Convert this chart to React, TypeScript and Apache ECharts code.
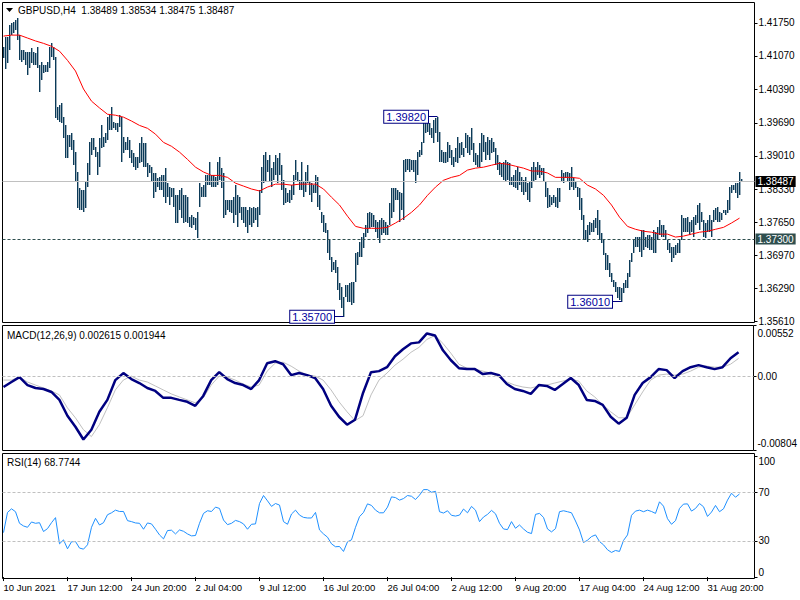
import React, { useEffect, useRef } from 'react';
import * as echarts from 'echarts';

const xTickLabels = ['10 Jun 2021', '17 Jun 12:00', '24 Jun 20:00', '2 Jul 04:00', '9 Jul 12:00', '16 Jul 20:00', '26 Jul 04:00', '2 Aug 12:00', '9 Aug 20:00', '17 Aug 04:00', '24 Aug 12:00', '31 Aug 20:00'];

const priceTicks = [1.3561, 1.3629, 1.3697, 1.3765, 1.3833, 1.3901, 1.3969, 1.4039, 1.4107, 1.4175];

const highs = [
1.4125,1.4146,1.4146,1.4170,1.4175,1.4177,1.4181,1.4185,1.4150,1.4119,
1.4119,1.4115,1.4115,1.4115,1.4123,1.4115,1.4113,1.4125,1.4088,1.4094,
1.4088,1.4088,1.4094,1.4125,1.4133,1.4125,1.4105,1.4002,1.4006,1.4010,
1.3981,1.3964,1.3944,1.3944,1.3948,1.3934,1.3909,1.3868,1.3835,1.3831,
1.3831,1.3847,1.3886,1.3929,1.3938,1.3938,1.3919,1.3909,1.3938,1.3964,
1.3940,1.3948,1.3981,1.3985,1.4002,1.3971,1.3969,1.3969,1.3985,1.3981,
1.3940,1.3929,1.3940,1.3934,1.3913,1.3907,1.3899,1.3899,1.3927,1.3940,
1.3927,1.3927,1.3886,1.3882,1.3878,1.3866,1.3866,1.3855,1.3857,1.3861,
1.3861,1.3876,1.3845,1.3837,1.3835,1.3835,1.3820,1.3820,1.3831,1.3835,
1.3820,1.3820,1.3816,1.3775,1.3779,1.3775,1.3773,1.3785,1.3845,1.3837,
1.3841,1.3861,1.3861,1.3888,1.3861,1.3861,1.3857,1.3888,1.3899,1.3876,
1.3866,1.3810,1.3810,1.3810,1.3810,1.3816,1.3841,1.3820,1.3816,1.3796,
1.3796,1.3796,1.3789,1.3796,1.3794,1.3796,1.3794,1.3796,1.3831,1.3878,
1.3903,1.3909,1.3892,1.3903,1.3876,1.3888,1.3903,1.3897,1.3907,1.3882,
1.3851,1.3835,1.3824,1.3831,1.3841,1.3861,1.3892,1.3868,1.3851,1.3888,
1.3847,1.3868,1.3882,1.3847,1.3845,1.3841,1.3861,1.3857,1.3820,1.3785,
1.3779,1.3763,1.3748,1.3728,1.3693,1.3682,1.3686,1.3672,1.3639,1.3631,
1.3610,1.3635,1.3635,1.3639,1.3641,1.3641,1.3701,1.3703,1.3723,1.3734,
1.3742,1.3758,1.3783,1.3785,1.3783,1.3779,1.3769,1.3765,1.3769,1.3773,
1.3769,1.3765,1.3758,1.3804,1.3835,1.3835,1.3835,1.3831,1.3826,1.3824,
1.3892,1.3894,1.3894,1.3894,1.3892,1.3892,1.3892,1.3909,1.3913,1.3929,
1.3971,1.3971,1.3975,1.3969,1.3958,1.3975,1.3979,1.3982,1.3950,1.3913,
1.3909,1.3909,1.3929,1.3923,1.3913,1.3899,1.3917,1.3940,1.3927,1.3929,
1.3917,1.3948,1.3944,1.3940,1.3958,1.3927,1.3907,1.3903,1.3927,1.3948,
1.3944,1.3929,1.3940,1.3934,1.3938,1.3929,1.3917,1.3903,1.3888,1.3886,
1.3888,1.3892,1.3888,1.3886,1.3857,1.3861,1.3872,1.3878,1.3868,1.3857,
1.3851,1.3857,1.3845,1.3847,1.3878,1.3888,1.3878,1.3888,1.3882,1.3876,
1.3876,1.3847,1.3835,1.3820,1.3816,1.3820,1.3816,1.3835,1.3835,1.3872,
1.3866,1.3868,1.3868,1.3866,1.3878,1.3855,1.3847,1.3837,1.3835,1.3814,
1.3779,1.3748,1.3758,1.3765,1.3763,1.3769,1.3773,1.3789,1.3769,1.3742,
1.3728,1.3701,1.3697,1.3680,1.3660,1.3645,1.3641,1.3631,1.3631,1.3629,
1.3639,1.3645,1.3660,1.3686,1.3701,1.3728,1.3734,1.3734,1.3734,1.3748,
1.3748,1.3734,1.3738,1.3738,1.3734,1.3748,1.3744,1.3754,1.3769,1.3758,
1.3758,1.3748,1.3728,1.3721,1.3713,1.3713,1.3717,1.3721,1.3728,1.3779,
1.3773,1.3773,1.3775,1.3765,1.3769,1.3775,1.3779,1.3800,1.3804,1.3785,
1.3769,1.3763,1.3769,1.3779,1.3769,1.3789,1.3794,1.3796,1.3785,1.3783,
1.3789,1.3789,1.3810,1.3837,1.3841,1.3841,1.3845,1.3845,1.3868,1.38534
];

const lows = [
1.4103,1.4080,1.4092,1.4119,1.4150,1.4154,1.4160,1.4140,1.4098,1.4094,
1.4098,1.4088,1.4067,1.4082,1.4092,1.4088,1.4088,1.4082,1.4032,1.4057,
1.4072,1.4074,1.4074,1.4082,1.4105,1.4098,1.3979,1.3975,1.3971,1.3969,
1.3938,1.3897,1.3897,1.3919,1.3913,1.3882,1.3847,1.3794,1.3789,1.3789,
1.3785,1.3794,1.3837,1.3861,1.3903,1.3913,1.3899,1.3861,1.3878,1.3917,
1.3919,1.3927,1.3934,1.3954,1.3954,1.3958,1.3954,1.3950,1.3960,1.3888,
1.3907,1.3913,1.3913,1.3897,1.3886,1.3878,1.3872,1.3876,1.3886,1.3888,
1.3878,1.3878,1.3857,1.3866,1.3847,1.3814,1.3826,1.3837,1.3831,1.3831,
1.3816,1.3804,1.3816,1.3800,1.3816,1.3796,1.3763,1.3763,1.3789,1.3773,
1.3763,1.3765,1.3763,1.3754,1.3752,1.3758,1.3748,1.3732,1.3796,1.3816,
1.3816,1.3816,1.3841,1.3841,1.3837,1.3837,1.3837,1.3841,1.3851,1.3835,
1.3773,1.3779,1.3789,1.3785,1.3783,1.3763,1.3779,1.3754,1.3783,1.3769,
1.3763,1.3754,1.3742,1.3758,1.3754,1.3763,1.3769,1.3754,1.3779,1.3824,
1.3845,1.3847,1.3868,1.3847,1.3837,1.3851,1.3861,1.3845,1.3861,1.3831,
1.3800,1.3804,1.3806,1.3804,1.3810,1.3820,1.3851,1.3847,1.3831,1.3831,
1.3816,1.3826,1.3845,1.3820,1.3806,1.3824,1.3824,1.3796,1.3789,1.3763,
1.3744,1.3742,1.3701,1.3686,1.3662,1.3666,1.3660,1.3625,1.3604,1.3588,
1.3570,1.3610,1.3600,1.3600,1.3594,1.3598,1.3641,1.3676,1.3693,1.3693,
1.3711,1.3734,1.3742,1.3752,1.3754,1.3754,1.3744,1.3732,1.3721,1.3738,
1.3742,1.3738,1.3738,1.3758,1.3773,1.3785,1.3810,1.3810,1.3765,1.3789,
1.3769,1.3868,1.3872,1.3868,1.3872,1.3868,1.3845,1.3861,1.3899,1.3903,
1.3927,1.3948,1.3950,1.3944,1.3938,1.3927,1.3948,1.3929,1.3888,1.3888,
1.3886,1.3886,1.3888,1.3897,1.3882,1.3878,1.3888,1.3886,1.3897,1.3903,
1.3899,1.3917,1.3907,1.3903,1.3913,1.3888,1.3882,1.3878,1.3878,1.3888,
1.3909,1.3892,1.3903,1.3892,1.3907,1.3909,1.3882,1.3872,1.3861,1.3857,
1.3851,1.3847,1.3851,1.3841,1.3841,1.3837,1.3835,1.3831,1.3841,1.3826,
1.3820,1.3826,1.3810,1.3806,1.3835,1.3847,1.3851,1.3861,1.3855,1.3861,
1.3847,1.3816,1.3794,1.3796,1.3800,1.3804,1.3796,1.3794,1.3806,1.3847,
1.3845,1.3855,1.3847,1.3831,1.3837,1.3831,1.3835,1.3816,1.3789,1.3769,
1.3728,1.3728,1.3723,1.3738,1.3744,1.3744,1.3752,1.3738,1.3728,1.3721,
1.3697,1.3666,1.3666,1.3651,1.3641,1.3631,1.3620,1.3608,1.3604,1.3601,
1.3618,1.3629,1.3629,1.3651,1.3682,1.3701,1.3713,1.3713,1.3703,1.3693,
1.3707,1.3713,1.3711,1.3707,1.3707,1.3701,1.3701,1.3728,1.3738,1.3734,
1.3734,1.3728,1.3707,1.3701,1.3682,1.3691,1.3697,1.3701,1.3701,1.3728,
1.3744,1.3744,1.3744,1.3738,1.3744,1.3734,1.3758,1.3763,1.3748,1.3765,
1.3734,1.3732,1.3744,1.3744,1.3734,1.3765,1.3769,1.3765,1.3765,1.3769,
1.3783,1.3779,1.3783,1.3789,1.3824,1.3831,1.3824,1.3814,1.3820,1.38475
];

// moving average, read every 4th bar
const maValues = [
1.4148,1.4150,1.4150,1.4144,1.4138,1.4133,1.4127,1.4117,1.4098,1.4076,
1.4039,1.4014,1.4000,1.3987,1.3985,1.3981,1.3973,1.3964,1.3958,1.3946,
1.3929,1.3921,1.3909,1.3894,1.3878,1.3868,1.3861,1.3861,1.3857,1.3845,
1.3839,1.3833,1.3829,1.3837,1.3843,1.3843,1.3841,1.3843,1.3843,1.3843,
1.3833,1.3816,1.3800,1.3777,1.3756,1.3752,1.3752,1.3752,1.3754,1.3763,
1.3773,1.3785,1.3800,1.3820,1.3837,1.3851,1.3857,1.3861,1.3872,1.3876,
1.3878,1.3882,1.3886,1.3884,1.3880,1.3876,1.3870,1.3870,1.3866,1.3857,
1.3857,1.3857,1.3855,1.3841,1.3833,1.3820,1.3800,1.3775,1.3756,1.3750,
1.3746,1.3744,1.3740,1.3740,1.3734,1.3736,1.3740,1.3744,1.3746,1.3750,
1.3754,1.3763,1.3773
];

// MACD main and signal, read every 4th bar
const macdMain = [
-0.00115,-0.00061,-0.00008,-0.00094,-0.00126,-0.00137,-0.00169,-0.00255,-0.00427,-0.00546,
-0.00685,-0.00578,-0.00384,-0.00255,-0.00040,0.00036,-0.00029,-0.00072,-0.00126,-0.00158,
-0.00233,-0.00233,-0.00255,-0.00276,-0.00319,-0.00212,-0.00040,0.00046,-0.00029,-0.00072,
-0.00094,-0.00137,-0.00040,0.00143,0.00165,0.00132,0.00014,0.00036,0.00014,-0.00018,
-0.00137,-0.00319,-0.00438,-0.00524,-0.00470,-0.00180,0.00046,0.00057,0.00100,0.00218,
0.00294,0.00358,0.00369,0.00466,0.00444,0.00283,0.00175,0.00089,0.00079,0.00079,
0.00025,0.00036,0.00014,-0.00083,-0.00137,-0.00158,-0.00190,-0.00094,-0.00104,-0.00147,
-0.00083,-0.00018,-0.00094,-0.00255,-0.00266,-0.00309,-0.00438,-0.00513,-0.00449,-0.00201,
-0.00072,-0.00008,0.00079,0.00068,-0.00018,0.00057,0.00100,0.00122,0.00100,0.00079,
0.00100,0.00197,0.002615
];

const macdSignal = [
-0.00040,-0.00040,-0.00008,-0.00061,-0.00094,-0.00126,-0.00158,-0.00201,-0.00341,-0.00449,
-0.00578,-0.00653,-0.00524,-0.00341,-0.00147,-0.00040,0.00003,-0.00040,-0.00061,-0.00104,
-0.00147,-0.00190,-0.00223,-0.00255,-0.00287,-0.00233,-0.00094,0.00003,-0.00008,-0.00040,
-0.00083,-0.00115,-0.00094,0.00057,0.00143,0.00154,0.00111,0.00057,0.00014,0.00003,
-0.00040,-0.00147,-0.00276,-0.00384,-0.00481,-0.00427,-0.00201,-0.00040,0.00036,0.00122,
0.00186,0.00261,0.00315,0.00401,0.00444,0.00358,0.00251,0.00132,0.00089,0.00079,
0.00057,0.00036,-0.00008,-0.00061,-0.00094,-0.00115,-0.00126,-0.00104,-0.00094,-0.00072,
-0.00051,-0.00029,-0.00051,-0.00158,-0.00223,-0.00309,-0.00384,-0.00449,-0.00449,-0.00309,
-0.00169,-0.00040,0.00014,0.00025,0.00014,0.00025,0.00057,0.00100,0.00111,0.00100,
0.00100,0.00132,0.001944
];

// RSI(14), read every 2nd bar
const rsiValues = [
36.8,53.5,56.5,54.1,44.5,42.3,41.2,45.6,44.5,45.0,
37.7,40.1,45.0,49.2,27.5,30.8,23.4,29.2,29.4,24.0,
23.1,26.7,41.2,48.6,43.1,45.0,51.6,53.2,55.4,54.3,
54.3,46.7,45.9,44.8,44.5,39.6,44.8,44.0,39.6,34.9,
31.6,38.5,38.8,35.7,39.0,37.9,35.7,34.1,34.4,44.5,
52.7,54.9,54.3,57.9,56.8,47.2,43.4,44.5,46.9,45.9,
44.0,39.6,43.7,44.0,60.9,67.5,63.1,58.5,60.9,59.6,
45.9,43.7,52.2,55.4,51.3,49.4,48.9,48.9,53.5,39.0,
35.7,33.0,27.5,25.1,25.3,21.2,29.2,30.8,41.2,50.0,
53.5,60.6,59.3,55.4,53.2,53.2,57.9,66.4,65.8,63.7,
65.0,67.5,66.9,64.2,67.8,72.4,72.4,70.2,71.0,54.1,
53.0,54.9,51.1,50.5,51.3,56.3,53.2,58.5,55.4,45.9,
49.7,51.9,55.2,52.4,44.5,39.8,39.3,45.9,40.4,43.1,
39.8,37.1,36.0,51.9,52.7,49.4,39.8,37.4,40.1,54.1,
54.9,54.1,53.2,46.4,39.0,28.6,30.5,33.5,34.9,29.4,
26.7,22.6,20.4,22.0,21.2,30.3,34.9,51.1,54.6,55.4,
54.1,55.4,54.3,52.7,62.3,58.7,48.3,43.7,46.7,56.8,
60.4,60.6,54.6,56.8,60.9,58.2,50.2,53.8,59.3,54.1,
56.5,63.7,69.4,66.1,68.77
];

const annotations = [
  { label: '1.39820', bar: 217, price: 1.3982 },
  { label: '1.35700', bar: 170, price: 1.357 },
  { label: '1.36010', bar: 309, price: 1.3601 },
];

const lastPrice = 1.38487;
const levelPrice = 1.373;

const CAT_COUNT = 376;
const FONT = '"Liberation Sans", Arial, sans-serif';

export default function App() {
  const ref = useRef<HTMLDivElement>(null);
  useEffect(() => {
    const chart = echarts.init(ref.current as HTMLDivElement, undefined, { renderer: 'svg', width: 800, height: 600 });
    const categories = Array.from({ length: CAT_COUNT }, (_, i) => String(i));
    const barData = highs.map((h, i) => [i, lows[i], h]);
    const maData = maValues.map((v, k) => [k * 4, v]);
    const macdData = macdMain.map((v, k) => [k * 4, v]);
    const sigData = macdSignal.map((v, k) => [k * 4, v]);
    const rsiData = rsiValues.map((v, j) => [j * 2, v]);
    const tickInterval = (idx: number) => idx % 32 === 0 && idx / 32 < xTickLabels.length;

    const gridBase = { left: 2.5, width: 752, show: true, borderColor: '#000', borderWidth: 1, backgroundColor: '#fff' };
    const hiddenX = (gi: number) => ({ type: 'category', gridIndex: gi, data: categories, boundaryGap: true, show: false });
    const textStyle = { fontFamily: FONT, fontSize: 10, color: '#000' };

    const option: any = {
      animation: false,
      backgroundColor: '#fff',
      grid: [
        { ...gridBase, top: 2.5, height: 320 },
        { ...gridBase, top: 325.5, height: 125 },
        { ...gridBase, top: 453.5, height: 125 },
      ],
      xAxis: [
        hiddenX(0),
        hiddenX(1),
        {
          type: 'category', gridIndex: 2, data: categories, boundaryGap: true,
          axisLine: { show: false },
          axisTick: { show: true, interval: tickInterval, alignWithLabel: true, length: 4, lineStyle: { color: '#000' } },
          axisLabel: {
            interval: tickInterval, align: 'left', margin: 4, fontSize: 9.5, color: '#000', fontFamily: FONT,
            formatter: (_v: string, idx: number) => xTickLabels[idx / 32] ?? '',
          },
        },
      ],
      yAxis: [
        {
          type: 'value', gridIndex: 0, position: 'right', min: 1.3558, max: 1.42172,
          splitLine: { show: false }, axisLine: { show: false },
          axisTick: { show: true, length: 3, customValues: priceTicks, lineStyle: { color: '#000' } },
          axisLabel: { customValues: priceTicks, formatter: (v: number) => v.toFixed(5), margin: 4, ...textStyle },
        },
        {
          type: 'value', gridIndex: 1, position: 'right', min: -0.00804, max: 0.00552,
          splitLine: { show: false }, axisLine: { show: false },
          axisTick: { show: true, length: 3, customValues: [0.00552, 0, -0.00804], lineStyle: { color: '#000' } },
          axisLabel: {
            customValues: [0.00463, 0, -0.00728], margin: 4, ...textStyle,
            formatter: (v: number) => (v > 0.003 ? '0.00552' : v < -0.003 ? '-0.00804' : '0.00'),
          },
        },
        {
          type: 'value', gridIndex: 2, position: 'right', min: -1.2, max: 102.3,
          splitLine: { show: false }, axisLine: { show: false },
          axisTick: { show: true, length: 3, customValues: [100, 70, 30, 0], lineStyle: { color: '#000' } },
          axisLabel: {
            customValues: [96, 70, 30, 4], margin: 4, ...textStyle,
            formatter: (v: number) => (v > 90 ? '100' : v < 10 ? '0' : String(v)),
          },
        },
      ],
      series: [
        {
          type: 'custom', name: 'GBPUSD', xAxisIndex: 0, yAxisIndex: 0, data: barData,
          encode: { x: 0, y: [1, 2] }, clip: true,
          renderItem: (_p: any, api: any) => {
            const i = api.value(0);
            const lo = api.coord([i, api.value(1)]);
            const hi = api.coord([i, api.value(2)]);
            const x = Math.floor(lo[0]);
            const y1 = Math.round(hi[1]);
            const y2 = Math.round(lo[1]);
            return { type: 'rect', shape: { x, y: y1, width: 1.4, height: Math.max(1, y2 - y1) }, style: { fill: '#0b3a58' } };
          },
        },
        {
          type: 'line', name: 'MA', xAxisIndex: 0, yAxisIndex: 0, data: maData, showSymbol: false,
          lineStyle: { color: '#ff0000', width: 1 }, z: 3,
          markLine: {
            silent: true, symbol: ['none', 'none'], animation: false, precision: 5,
            data: [
              {
                yAxis: lastPrice, lineStyle: { color: '#c0c0c0', type: 'solid', width: 1 },
                label: { show: true, position: 'end', distance: 1, formatter: lastPrice.toFixed(5), backgroundColor: '#000', color: '#fff', padding: [1, 2, 0, 2], fontSize: 10, fontFamily: FONT },
              },
              {
                yAxis: levelPrice, lineStyle: { color: '#2f4f4f', type: [3, 2], width: 1 },
                label: { show: true, position: 'end', distance: 1, formatter: levelPrice.toFixed(5), backgroundColor: '#2f4f4f', color: '#fff', padding: [1, 2, 0, 2], fontSize: 10, fontFamily: FONT },
              },
              ...annotations.map((a) => [
                { coord: [a.bar - 5, a.price], lineStyle: { color: '#000080', type: 'solid', width: 1 }, label: { show: false } },
                { coord: [a.bar, a.price] },
              ]),
            ],
          },
          markPoint: {
            silent: true, symbol: 'circle', symbolSize: 1, itemStyle: { color: 'rgba(0,0,0,0)' },
            label: {
              show: true, position: 'left', distance: 9, formatter: (p: any) => p.name,
              backgroundColor: '#fff', borderColor: '#000080', borderWidth: 1, padding: [1, 2, 0, 2],
              color: '#0000a0', fontSize: 11, fontFamily: FONT,
            },
            data: annotations.map((a) => ({ name: a.label, coord: [a.bar, a.price] })),
          },
        },
        {
          type: 'line', name: 'Signal', xAxisIndex: 1, yAxisIndex: 1, data: sigData, showSymbol: false,
          lineStyle: { color: '#c0c0c0', width: 1 },
          markLine: {
            silent: true, symbol: ['none', 'none'], label: { show: false }, precision: 5,
            lineStyle: { color: '#c0c0c0', type: [3, 2], width: 1 },
            data: [{ yAxis: 0 }],
          },
        },
        {
          type: 'line', name: 'MACD', xAxisIndex: 1, yAxisIndex: 1, data: macdData, showSymbol: false,
          lineStyle: { color: '#000080', width: 2.5 },
        },
        {
          type: 'line', name: 'RSI', xAxisIndex: 2, yAxisIndex: 2, data: rsiData, showSymbol: false,
          lineStyle: { color: '#1e90ff', width: 1 },
          markLine: {
            silent: true, symbol: ['none', 'none'], label: { show: false },
            lineStyle: { color: '#c0c0c0', type: [3, 2], width: 1 },
            data: [{ yAxis: 70 }, { yAxis: 30 }],
          },
        },
      ],
      graphic: [
        { type: 'polygon', shape: { points: [[6, 8], [13, 8], [9.5, 12]] }, style: { fill: '#000' } },
        { type: 'text', x: 18, y: 10.5, style: { text: 'GBPUSD,H4\u00a0 1.38489 1.38534 1.38475 1.38487', font: `10px ${FONT}`, fill: '#000', verticalAlign: 'middle' } },
        { type: 'text', x: 7, y: 335, style: { text: 'MACD(12,26,9) 0.002615 0.001944', font: `10px ${FONT}`, fill: '#000', verticalAlign: 'middle' } },
        { type: 'text', x: 7, y: 462.5, style: { text: 'RSI(14) 68.7744', font: `10px ${FONT}`, fill: '#000', verticalAlign: 'middle' } },
        { type: 'text', x: 418, y: 63, z: -1, style: { text: 'ActionForex.com', font: `24px ${FONT}`, fill: '#c8c8c8', verticalAlign: 'middle' } },
      ],
    };
    chart.setOption(option);
    return () => chart.dispose();
  }, []);
  return <div ref={ref} style={{ position: 'fixed', left: 0, top: 0, width: 800, height: 600, background: '#fff' }} />;
}
